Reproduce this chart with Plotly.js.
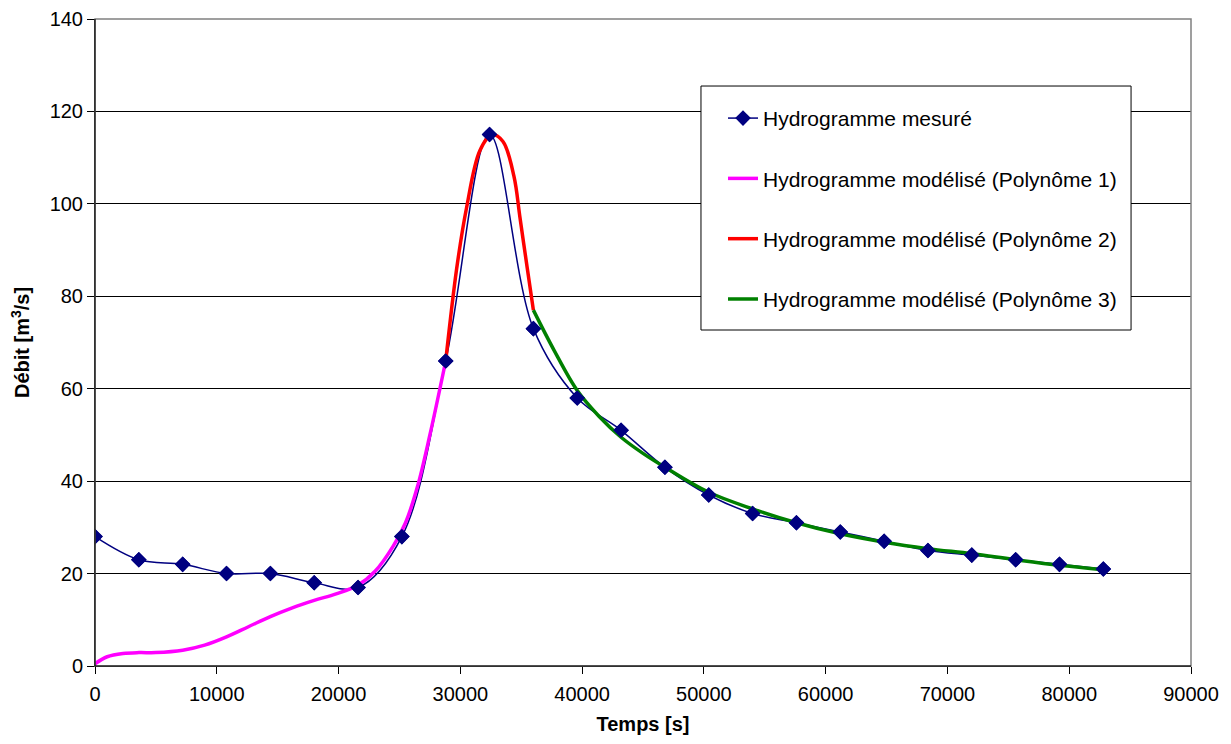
<!DOCTYPE html>
<html>
<head>
<meta charset="utf-8">
<script src="https://cdn.plot.ly/plotly-3.0.1.min.js"></script>
<style>html,body{margin:0;padding:0;background:#fff;}#chart{width:1231px;height:744px;}</style>
</head>
<body>
<div id="chart"></div>
<script>
// Measured hydrograph
const measuredTime = [0, 3600, 7200, 10800, 14400, 18000, 21600, 25200, 28800, 32400, 36000, 39600, 43200, 46800, 50400, 54000, 57600, 61200, 64800, 68400, 72000, 75600, 79200, 82800];
const measuredFlow = [28, 23, 22, 20, 20, 18, 17, 28, 66, 115, 73, 58, 51, 43, 37, 33, 31, 29, 27, 25, 24, 23, 22, 21];

// Modelled hydrograph, polynomial 1
const poly1Time = [0, 1000, 2300, 3600, 5000, 7200, 9000, 10800, 12600, 14400, 16200, 18000, 19800, 21600, 23000, 24500, 25500, 26500, 27500, 28800];
const poly1Flow = [0.5, 2.0, 2.7, 2.9, 2.9, 3.4, 4.5, 6.3, 8.5, 10.7, 12.6, 14.2, 15.6, 17.5, 20.5, 26, 31, 39, 50, 66];

// Modelled hydrograph, polynomial 2
const poly2Time = [28800, 29700, 30500, 31600, 32600, 33500, 34400, 34900, 35500, 36000];
const poly2Flow = [66, 86, 99, 111.5, 115, 113.5, 106, 97, 86, 77];

// Modelled hydrograph, polynomial 3
const poly3Time = [36000, 37700, 39600, 41400, 43200, 45000, 46800, 50300, 54000, 57600, 61200, 64800, 68400, 72000, 75600, 79200, 82600];
const poly3Flow = [77, 68.3, 59.6, 54, 49.5, 46, 43, 37.7, 34, 31, 28.6, 26.8, 25.4, 24.3, 23, 21.8, 20.9];

const seriesNames = [
  'Hydrogramme mesuré',
  'Hydrogramme modélisé (Polynôme 1)',
  'Hydrogramme modélisé (Polynôme 2)',
  'Hydrogramme modélisé (Polynôme 3)'
];

const FONT = 'Liberation Sans, Arial, sans-serif';
const navy = '#000080';

const traces = [
  {x: measuredTime, y: measuredFlow, name: seriesNames[0], type: 'scatter', mode: 'lines+markers',
   line: {color: navy, width: 1.5, shape: 'spline', smoothing: 1},
   marker: {symbol: 'diamond', size: 12, color: navy}, legendgroup: 'a'},
  {x: poly1Time, y: poly1Flow, name: seriesNames[1], type: 'scatter', mode: 'lines',
   line: {color: '#FF00FF', width: 3.5, shape: 'spline', smoothing: 1}, legendgroup: 'b'},
  {x: poly2Time, y: poly2Flow, name: seriesNames[2], type: 'scatter', mode: 'lines',
   line: {color: '#FF0000', width: 3.5, shape: 'spline', smoothing: 1}, legendgroup: 'c'},
  {x: poly3Time, y: poly3Flow, name: seriesNames[3], type: 'scatter', mode: 'lines',
   line: {color: '#008000', width: 3.5, shape: 'spline', smoothing: 1}, legendgroup: 'd'},
  {x: measuredTime, y: measuredFlow, type: 'scatter', mode: 'markers', showlegend: false,
   marker: {symbol: 'diamond', size: 12, color: navy}, hoverinfo: 'skip', legendgroup: 'a'}
];

const layout = {
  width: 1231, height: 744,
  paper_bgcolor: '#fff', plot_bgcolor: '#fff',
  margin: {l: 95, r: 40, t: 19, b: 78},
  font: {family: FONT, size: 20, color: '#000'},
  showlegend: true,
  legend: {
    x: 0.573, y: 0.878, xanchor: 'left', yanchor: 'top',
    bgcolor: 'rgba(0,0,0,0)', borderwidth: 0,
    font: {family: FONT, size: 21, color: '#000'},
    tracegroupgap: 30, traceorder: 'grouped'
  },
  xaxis: {
    range: [0, 90000], dtick: 10000, tick0: 0, tickformat: 'd',
    showgrid: false, zeroline: false,
    showline: true, linecolor: '#000', linewidth: 1,
    ticks: 'outside', ticklen: 7, tickcolor: '#000',
    ticklabelstandoff: 3,
    tickfont: {family: FONT, size: 20, color: '#000'},
    title: {text: 'Temps [s]', font: {family: FONT, size: 20, color: '#000', weight: 'bold'}, standoff: 12}
  },
  yaxis: {
    range: [0, 140], dtick: 20, tick0: 0,
    showgrid: true, gridcolor: '#000', gridwidth: 1, zeroline: false,
    showline: true, linecolor: '#000', linewidth: 1,
    ticks: 'outside', ticklen: 7, tickcolor: '#000',
    tickfont: {family: FONT, size: 20, color: '#000'},
    title: {text: 'Débit [m<sup>3</sup>/s]', font: {family: FONT, size: 20, color: '#000', weight: 'bold'}, standoff: 14}
  },
  shapes: [
    {type: 'rect', xref: 'paper', yref: 'paper', x0: 0, x1: 1, y0: 0, y1: 1,
     line: {color: '#808080', width: 1.5}, fillcolor: 'rgba(0,0,0,0)', layer: 'above'},
    {type: 'line', xref: 'paper', yref: 'paper', x0: 0, x1: 0, y0: 0, y1: 1,
     line: {color: '#000', width: 1}, layer: 'above'},
    {type: 'line', xref: 'paper', yref: 'paper', x0: 0, x1: 1, y0: 0, y1: 0,
     line: {color: '#000', width: 1}, layer: 'above'},
    {type: 'rect', xref: 'paper', yref: 'paper', x0: 0.5529, x1: 0.9453, y0: 0.5193, y1: 0.8964,
     line: {color: '#000', width: 1}, fillcolor: '#fff', layer: 'above'}
  ]
};

Plotly.newPlot('chart', traces, layout, {displayModeBar: false, staticPlot: true});
</script>
</body>
</html>
